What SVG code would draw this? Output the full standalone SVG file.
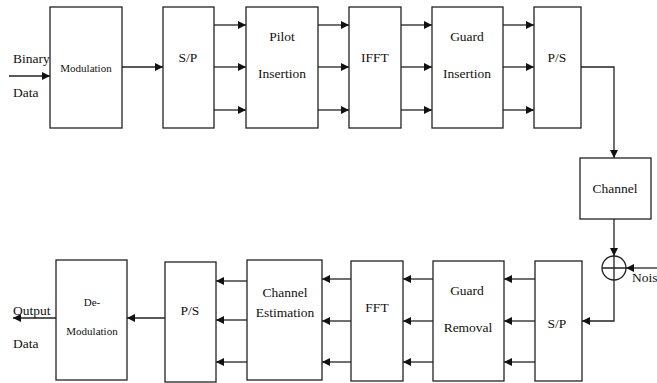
<svg xmlns="http://www.w3.org/2000/svg" width="657" height="383" viewBox="0 0 657 383">
<style>
.b{fill:#fff;stroke:#222;stroke-width:1.3}
.t{font-family:'Liberation Serif','Times New Roman','DejaVu Serif',serif;font-size:13.5px;fill:#111;text-anchor:middle}
.s{font-size:11px}
.l{text-anchor:start}
.c{fill:none;stroke:#222;stroke-width:1.3}
</style>
<defs>
<marker id="a" viewBox="0 0 10 10" refX="10" refY="5" markerWidth="8" markerHeight="8" markerUnits="userSpaceOnUse" orient="auto"><path d="M0,0 L10,5 L0,10 z" fill="#111"/></marker>
</defs>
<rect width="657" height="383" fill="#fff"/>
<g id="modulation"><rect class="b" x="50" y="7" width="72" height="121"/><text class="t s" x="86" y="72">Modulation</text></g>
<g id="sp1"><rect class="b" x="163" y="7" width="51" height="121"/><text class="t" x="188" y="62">S/P</text></g>
<g id="pilot"><rect class="b" x="246" y="7" width="72" height="121"/><text class="t" x="282" y="41">Pilot</text><text class="t" x="282" y="78">Insertion</text></g>
<g id="ifft"><rect class="b" x="349" y="7" width="52" height="121"/><text class="t" x="375" y="62">IFFT</text></g>
<g id="guardins"><rect class="b" x="432" y="7" width="71" height="121"/><text class="t" x="467" y="41">Guard</text><text class="t" x="467" y="78">Insertion</text></g>
<g id="ps1"><rect class="b" x="534" y="7" width="47" height="121"/><text class="t" x="557" y="62">P/S</text></g>
<g id="channel"><rect class="b" x="580" y="158" width="71" height="61"/><text class="t" x="615" y="193">Channel</text></g>
<g id="adder"><circle class="c" cx="614" cy="268" r="12"/><path class="c" d="M602,268 H626 M614,256 V280"/></g>
<g id="sp2"><rect class="b" x="535" y="261" width="47" height="120"/><text class="t" x="557" y="328">S/P</text></g>
<g id="guardrem"><rect class="b" x="433" y="261" width="71" height="120"/><text class="t" x="467" y="295">Guard</text><text class="t" x="468" y="332">Removal</text></g>
<g id="fft"><rect class="b" x="351" y="261" width="52" height="120"/><text class="t" x="377" y="312">FFT</text></g>
<g id="chest"><rect class="b" x="247" y="260" width="75" height="120"/><text class="t" x="285" y="297">Channel</text><text class="t" x="285" y="317">Estimation</text></g>
<g id="ps2"><rect class="b" x="165" y="262" width="51" height="120"/><text class="t" x="190" y="315">P/S</text></g>
<g id="demod"><rect class="b" x="56" y="260" width="71" height="120"/><text class="t s" x="92" y="306">De-</text><text class="t s" x="92" y="335">Modulation</text></g>
<g id="labels">
<text class="t l" x="13" y="63">Binary</text>
<text class="t l" x="13" y="97">Data</text>
<text class="t l" x="632" y="282">Nois</text>
<text class="t l" x="13" y="315">Output</text>
<text class="t l" x="13" y="348">Data</text>
</g>
<g id="connectors" class="c" marker-end="url(#a)">
<path d="M9,76 H50"/>
<path d="M122,67 H163"/>
<path d="M214,25 H246"/><path d="M214,67 H246"/><path d="M214,110 H246"/>
<path d="M318,25 H349"/><path d="M318,67 H349"/><path d="M318,110 H349"/>
<path d="M401,25 H432"/><path d="M401,67 H432"/><path d="M401,110 H432"/>
<path d="M503,25 H534"/><path d="M503,67 H534"/><path d="M503,110 H534"/>
<path d="M581,67 H614 V158"/>
<path d="M614,219 V256"/>
<path d="M657,268 H626"/>
<path d="M614,280 V321 H582"/>
<path d="M535,279 H504"/><path d="M535,321 H504"/><path d="M535,362 H504"/>
<path d="M433,279 H403"/><path d="M433,321 H403"/><path d="M433,362 H403"/>
<path d="M351,279 H322"/><path d="M351,321 H322"/><path d="M351,362 H322"/>
<path d="M247,281 H216"/><path d="M247,320 H216"/><path d="M247,362 H216"/>
<path d="M165,318 H127"/>
<path d="M56,318 H13"/>
</g>
</svg>
